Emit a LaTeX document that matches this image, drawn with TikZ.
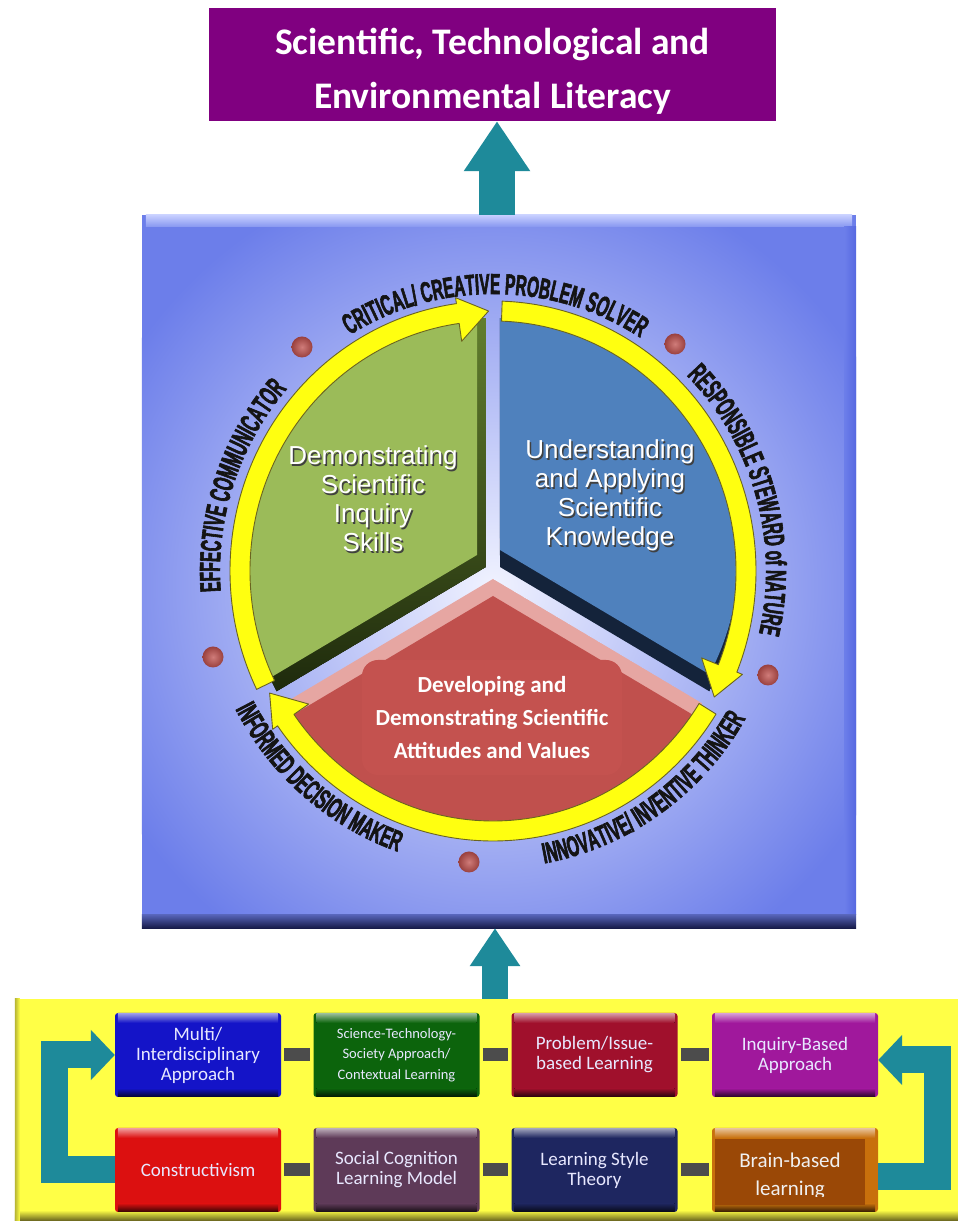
\documentclass[tikz,border=0pt]{standalone}
\usepackage{fontspec}
\setmainfont{Liberation Sans}
\newfontfamily\carlito{Carlito}
\newfontfamily\ringfont[FakeStretch=0.53,FakeBold=2]{Liberation Sans}
\usetikzlibrary{arrows.meta,decorations.text}
\definecolor{titleP}{HTML}{800080}
\definecolor{teal1}{HTML}{1E8A9A}
\definecolor{pIn}{HTML}{F0F2FF}
\definecolor{pOut}{HTML}{7587EE}
\definecolor{pBase}{HTML}{6C7EEA}
\definecolor{pTopHi}{HTML}{C8D0FF}
\definecolor{pRight}{HTML}{5668E0}
\definecolor{pDark}{HTML}{161A48}
\definecolor{gMain}{HTML}{9BBB59}
\definecolor{gDarkT}{HTML}{627E2E}
\definecolor{gDarkB}{HTML}{1E2A0C}
\definecolor{bMain}{HTML}{4F81BD}
\definecolor{bDark}{HTML}{14233A}
\definecolor{rMain}{HTML}{C0504D}
\definecolor{rPink}{HTML}{E6A6A2}
\definecolor{rBox}{HTML}{C4524F}
\definecolor{ringY}{HTML}{FFFF10}
\definecolor{ringEdge}{HTML}{6B6420}
\definecolor{labelK}{HTML}{141414}
\definecolor{dotR}{HTML}{C0504D}
\definecolor{bandY}{HTML}{FFFF46}
\definecolor{bandDark}{HTML}{6E6A20}
\definecolor{boxText}{HTML}{E8E8FF}
\definecolor{connG}{HTML}{4C4C4C}
\definecolor{cBa}{HTML}{1414C8}
\definecolor{cBb}{HTML}{0C640C}
\definecolor{cBc}{HTML}{A0102C}
\definecolor{cBd}{HTML}{A0189C}
\definecolor{cBe}{HTML}{DC1010}
\definecolor{cBf}{HTML}{5E3A58}
\definecolor{cBg}{HTML}{1E2660}
\definecolor{cBh}{HTML}{C8700C}
\definecolor{cBhin}{HTML}{9A4806}
\newcommand\rf{\ringfont\bfseries\fontsize{29}{29}\selectfont\color{labelK}}
\newcommand\ringseg[2]{%
 \pgfmathsetmacro\rsb{#2+7}%
 \filldraw[ringsty] ([shift={(493,655)}]#1:263 and 270) arc[start angle=#1,end angle=\rsb,x radius=263,y radius=270]
  -- ([shift={(493,655)}]\rsb:269 and 276) -- ([shift={(493,655)}]#2:253 and 260)
  -- ([shift={(493,655)}]\rsb:225 and 232) -- ([shift={(493,655)}]\rsb:243 and 250)
  arc[start angle=\rsb,end angle=#1,x radius=243,y radius=250] -- cycle;}
\begin{document}
\begin{tikzpicture}[x=1pt,y=1pt,
 titlebox/.style={rectangle, fill=titleP, minimum width=567pt, minimum height=113pt, inner sep=0pt},
 titletext/.style={text=white, align=center, inner sep=0pt, font=\carlito\bfseries\fontsize{37.5}{54}\selectfont},
 panelbox/.style={rectangle, minimum width=714pt, minimum height=713pt, inner sep=0pt, fill=pBase},
 bandbox/.style={rectangle, fill=bandY, minimum width=943pt, minimum height=221pt, inner sep=0pt},
 bx/.style={rectangle, rounded corners=3pt, minimum width=166pt, minimum height=84pt, inner sep=1pt, align=center, text=boxText, font=\carlito\fontsize{19}{20}\selectfont},
 conn/.style={draw=connG, line width=13pt, shorten <=3pt, shorten >=3pt},
 bigup/.style={draw=teal1, line width=36pt, -{Triangle[length=50pt,width=63pt]}},
 smallup/.style={draw=teal1, line width=26pt, -{Triangle[length=38pt,width=48pt]}},
 sidearrow/.style={draw=teal1, line width=27pt, line join=miter, -{Triangle[length=24pt,width=49pt]}},
 ringsty/.style={fill=ringY, draw=ringEdge, line width=0.9pt, line join=round},
 reddot/.style={circle, inner sep=0pt, minimum size=21pt, inner color=dotR!75!white, outer color=dotR!80!black},
 stext/.style={text=white, align=center, font=\fontsize{26}{29}\selectfont},
 stextsh/.style={text=black!75, align=center, font=\fontsize{26}{29}\selectfont},
 greensec/.style={insert path={(486,659) -- ([shift={(493,655)}]91.6:246 and 253) arc[start angle=91.6,end angle=208.4,x radius=246,y radius=253] -- cycle}},
 bluesec/.style={insert path={(500,659) -- ([shift={(493,655)}]-28.4:246 and 253) arc[start angle=-28.4,end angle=88.4,x radius=246,y radius=253] -- cycle}},
 redsec/.style={insert path={(493,647) -- ([shift={(493,655)}]211.6:246 and 253) arc[start angle=211.6,end angle=328.4,x radius=246,y radius=253] -- cycle}},
 ringlabel/.style={decorate, decoration={text along path, text align=center, text={|\rf|#1}}}
]
\useasboundingbox (0,0) rectangle (958,1226);
\fill[white] (0,0) rectangle (958,1226);

% yellow band
\node[bandbox] (band) at (486.5,116.5) {};
\fill[top color=bandY, bottom color=bandDark] (band.south west) rectangle ([yshift=10pt]band.south east);
\fill[left color=bandDark!50!bandY, right color=bandY] (band.south west) rectangle ([xshift=5pt]band.north west);

% title
\node[titlebox] (title) at (492.5,1161.5) {};
\node[titletext] (titlet) at (492.5,1155) {Scientific, Technological and\\Environmental Literacy};

% panel
\node[panelbox] (panel) at (499,654.5) {};
\begin{scope}
 \clip (panel.south west) rectangle (panel.north east);
 \shade[inner color=pIn, outer color=pBase] (493,640) circle (430);
\end{scope}
\fill[top color=pTopHi, bottom color=pOut!85!pIn] ([xshift=4pt]panel.north west) rectangle ([xshift=-4pt,yshift=-12pt]panel.north east);
\fill[left color=pBase, right color=pRight] ([xshift=-12pt,yshift=-12pt]panel.north east) rectangle ([yshift=14pt]panel.south east);
\fill[top color=pOut!70!pDark, bottom color=pDark] ([yshift=14pt]panel.south west) rectangle (panel.south east);

% arrows up
\draw[bigup] ([xshift=-2pt]panel.north) -- ([xshift=-2pt]panel.north |- title.south);
\draw[smallup] ([xshift=-4pt]panel.south |- band.north) -- ([xshift=-4pt]panel.south);

% sectors
\begin{scope}
 \path[clip, greensec];
 \fill[top color=gDarkT, bottom color=gDarkB, greensec];
 \fill[gMain, shift={(-9,12)}, greensec];
\end{scope}
\begin{scope}
 \path[clip, bluesec];
 \fill[bDark, bluesec];
 \fill[bMain, shift={(0,17)}, bluesec];
\end{scope}
\begin{scope}
 \path[clip, redsec];
 \fill[rPink, redsec];
 \fill[rMain, shift={(0,-17)}, redsec];
\end{scope}

\node[stextsh] at (374.5,725.5) {Demonstrating\\Scientific\\Inquiry\\Skills};
\node[stext] (gtext) at (373,727) {Demonstrating\\Scientific\\Inquiry\\Skills};
\node[stextsh] at (611.5,729) {Understanding\\and Applying\\Scientific\\Knowledge};
\node[stext] (btext) at (610,730.5) {Understanding\\and Applying\\Scientific\\Knowledge};
\node[rectangle, rounded corners=16pt, fill=rBox, minimum width=260pt, minimum height=115pt, text=white, align=center, font=\carlito\bfseries\fontsize{23}{33}\selectfont] (rtext) at (492,508.5) {Developing and\\Demonstrating Scientific\\Attitudes and Values};

% ring
\ringseg{-32}{-152}
\ringseg{206}{91}
\ringseg{88}{-29}

% dots
\node[reddot] (d1) at (302,879) {};
\node[reddot] (d2) at (675,882) {};
\node[reddot] (d3) at (213,569) {};
\node[reddot] (d4) at (768,551) {};
\node[reddot] (d5) at (469,364) {};

% ring labels
\path[ringlabel={CRITICAL/ CREATIVE PROBLEM SOLVER}] ([shift={(493,655)}]134.5:273 and 277) arc[start angle=134.5,end angle=44.5,x radius=273,y radius=277];
\path[ringlabel={RESPONSIBLE STEWARD of NATURE}] ([shift={(493,655)}]61:273 and 277) arc[start angle=61,end angle=-29,x radius=273,y radius=277];
\path[ringlabel={EFFECTIVE COMMUNICATOR}] ([shift={(493,655)}]206.5:273 and 277) arc[start angle=206.5,end angle=116.5,x radius=273,y radius=277];
\path[ringlabel={INFORMED DECISION MAKER}] ([shift={(493,655)}]184.5:291 and 297) arc[start angle=184.5,end angle=274.5,x radius=291,y radius=297];
\path[ringlabel={INNOVATIVE/ INVENTIVE THINKER}] ([shift={(493,655)}]-100:291 and 297) arc[start angle=-100,end angle=-10,x radius=291,y radius=297];

% boxes
\node[bx, fill=cBa] (b1) at (198,171) {Multi/\\Interdisciplinary\\Approach};
\node[bx, fill=cBb, font=\carlito\fontsize{14.5}{20.5}\selectfont] (b2) at (396.5,171) {Science-Technology-\\Society Approach/\\Contextual Learning};
\node[bx, fill=cBc] (b3) at (594.5,171) {Problem/Issue-\\based Learning};
\node[bx, fill=cBd] (b4) at (795,171) {Inquiry-Based\\Approach};
\node[bx, fill=cBe] (b5) at (198,56) {Constructivism};
\node[bx, fill=cBf] (b6) at (396.5,56) {Social Cognition\\Learning Model};
\node[bx, fill=cBg] (b7) at (594.5,56) {Learning Style\\Theory};
\node[bx, fill=cBh] (b8) at (795,56) {};
\foreach \n/\c in {b1/cBa,b2/cBb,b3/cBc,b4/cBd,b5/cBe,b6/cBf,b7/cBg,b8/cBh}{
 \fill[top color=\c!45!white, bottom color=\c] ([xshift=3pt,yshift=-1pt]\n.north west) rectangle ([xshift=-3pt,yshift=-10pt]\n.north east);
 \fill[top color=\c, bottom color=\c!30!black] ([xshift=3pt,yshift=9pt]\n.south west) rectangle ([xshift=-3pt,yshift=1pt]\n.south east);
}
\node[rectangle, fill=cBhin, minimum width=150pt, minimum height=66pt, inner sep=0pt] (b8in) at (790,54) {};
\begin{scope}
 \clip (b8in.south west) ++(0,9) rectangle (b8in.north east);
 \node[text=white!94!black, align=center, font=\carlito\fontsize{21}{28}\selectfont] (b8t) at (790,50) {Brain-based\\learning};
\end{scope}

% connectors
\draw[conn] (b1) -- (b2);
\draw[conn] (b2) -- (b3);
\draw[conn] (b3) -- (b4);
\draw[conn] (b5) -- (b6);
\draw[conn] (b6) -- (b7);
\draw[conn] (b7) -- (b8);

% side arrows
\coordinate (lbend) at (54.5,56);
\coordinate (rbend) at (937.5,49.5);
\draw[sidearrow] (b5.west) -- (lbend) |- (b1.west);
\draw[sidearrow] ([yshift=-6.5pt]b8.east) -- (rbend) |- ([yshift=-5pt]b4.east);
\end{tikzpicture}
\end{document}
